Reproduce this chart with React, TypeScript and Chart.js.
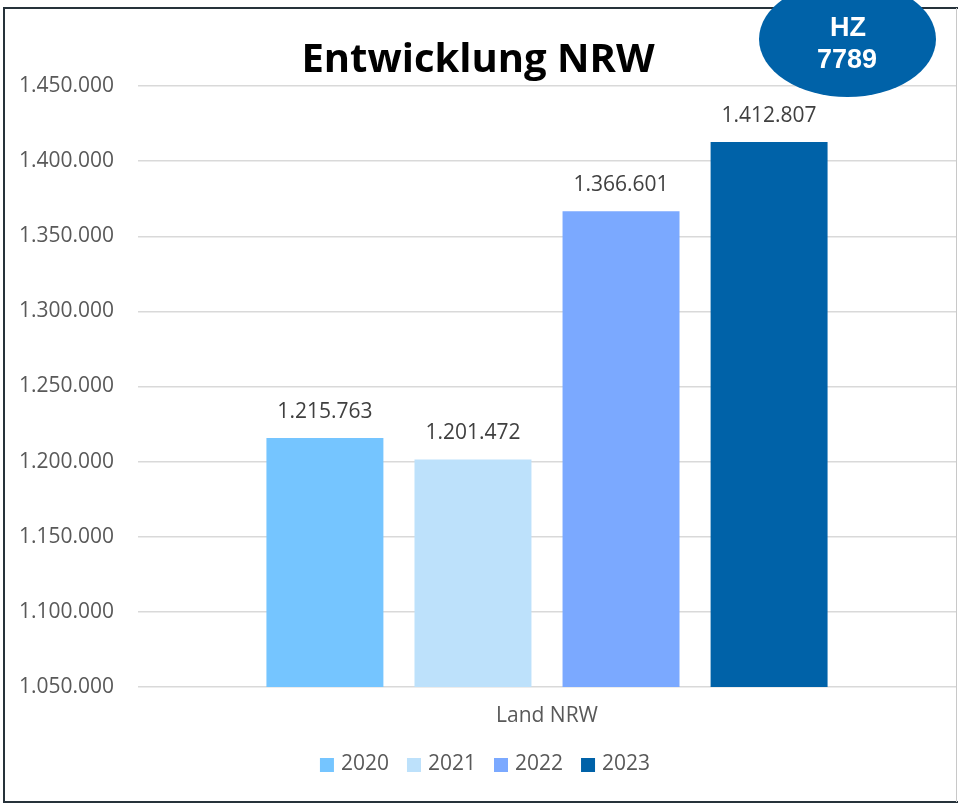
import React, { useEffect, useRef } from "react";
import { Chart, registerables } from "chart.js";

Chart.register(...registerables);

const TITLE = "Entwicklung NRW";
const CATEGORIES = ["Land NRW"];
const YEARS = ["2020", "2021", "2022", "2023"];
const VALUES = [1215763, 1201472, 1366601, 1412807];
const COLORS = ["#75C5FF", "#BDE1FB", "#7BA9FF", "#0062A8"];
const Y_MIN = 1050000;
const Y_MAX = 1450000;
const Y_STEP = 50000;
const BADGE_LINES = ["HZ", "7789"];

const FONT = "'Open Sans', 'DejaVu Sans', sans-serif";

function fmt(n: number): string {
  return String(Math.round(n)).replace(/\B(?=(\d{3})+(?!\d))/g, ".");
}

const framePlugin = {
  id: "frame",
  beforeDraw(chart: any) {
    const { ctx, width, height } = chart;
    ctx.save();
    ctx.fillStyle = "#FFFFFF";
    ctx.fillRect(0, 0, width, height);
    ctx.strokeStyle = "#26323A";
    ctx.lineWidth = 2;
    ctx.beginPath();
    ctx.moveTo(3, 8);
    ctx.lineTo(width, 8);
    ctx.moveTo(4, 7);
    ctx.lineTo(4, height - 1);
    ctx.moveTo(3, height - 1);
    ctx.lineTo(width, height - 1);
    ctx.stroke();
    ctx.strokeStyle = "#C8C8C8";
    ctx.lineWidth = 1;
    ctx.beginPath();
    ctx.moveTo(width - 1.5, 8);
    ctx.lineTo(width - 1.5, height - 1);
    ctx.stroke();
    ctx.restore();
  },
  afterDraw(chart: any) {
    const { ctx, width, chartArea } = chart;
    ctx.save();
    // custom legend
    ctx.font = `21px ${FONT}`;
    ctx.textBaseline = "middle";
    ctx.textAlign = "left";
    const box = 14;
    const gap = 7;
    const itemGap = 18;
    const items = chart.data.datasets.map((ds: any) => ({
      label: ds.label as string,
      color: ds.backgroundColor as string,
      w: box + gap + ctx.measureText(ds.label).width,
    }));
    const total =
      items.reduce((s: number, it: any) => s + it.w, 0) + itemGap * (items.length - 1);
    let x = width / 2 + 6 - total / 2;
    const yc = chartArea.bottom + 77;
    items.forEach((it: any) => {
      ctx.fillStyle = it.color;
      ctx.fillRect(x, yc - 6, box, box);
      ctx.fillStyle = "#595959";
      ctx.fillText(it.label, x + box + gap, yc);
      x += it.w + itemGap;
    });

    // badge
    ctx.fillStyle = "#0062A8";
    ctx.beginPath();
    ctx.ellipse(847.5, 39, 88.5, 58, 0, 0, Math.PI * 2);
    ctx.fill();
    ctx.fillStyle = "#FFFFFF";
    ctx.font = "bold 27px 'Liberation Sans', Arial, sans-serif";
    ctx.textAlign = "center";
    ctx.textBaseline = "middle";
    ctx.fillText(BADGE_LINES[0], 848, 29);
    ctx.fillText(BADGE_LINES[1], 847, 61);
    ctx.restore();
  },
};

const valueLabelPlugin = {
  id: "valueLabels",
  afterDatasetsDraw(chart: any) {
    const { ctx } = chart;
    ctx.save();
    ctx.fillStyle = "#404040";
    ctx.font = `21px ${FONT}`;
    ctx.textAlign = "center";
    ctx.textBaseline = "middle";
    chart.data.datasets.forEach((ds: any, i: number) => {
      const meta = chart.getDatasetMeta(i);
      meta.data.forEach((el: any, j: number) => {
        ctx.fillText(fmt(ds.data[j]), el.x, el.y - 26);
      });
    });
    ctx.restore();
  },
};

export default function App() {
  const ref = useRef<HTMLCanvasElement | null>(null);

  useEffect(() => {
    if (!ref.current) return;
    const chart = new Chart(ref.current, {
      type: "bar",
      data: {
        labels: CATEGORIES,
        datasets: YEARS.map((y, i) => ({
          label: y,
          data: [VALUES[i]],
          backgroundColor: COLORS[i],
          borderWidth: 0,
          categoryPercentage: 0.724,
          barPercentage: 0.79,
        })),
      },
      options: {
        responsive: false,
        animation: false,
        layout: { padding: { left: 0, right: 2, top: 0, bottom: 71.5 } },
        plugins: {
          title: {
            display: true,
            text: TITLE,
            color: "#000000",
            font: { family: FONT, size: 40, weight: "bold" },
            padding: { top: 37, bottom: 1 },
          },
          legend: { display: false },
          tooltip: { enabled: false },
        },
        scales: {
          x: {
            grid: { display: false, drawTicks: false },
            border: { display: false },
            ticks: {
              color: "#595959",
              font: { family: FONT, size: 21 },
              padding: 16,
            },
            afterFit(scale: any) {
              scale.height = 44.5;
            },
          },
          y: {
            min: Y_MIN,
            max: Y_MAX,
            grid: { color: "#D9D9D9", lineWidth: 1.5, drawTicks: false },
            border: { display: false },
            ticks: {
              stepSize: Y_STEP,
              color: "#595959",
              font: { family: FONT, size: 21 },
              padding: 24,
              callback: (v: any) => fmt(Number(v)),
            },
            afterFit(scale: any) {
              scale.width = 138;
            },
          },
        },
      },
      plugins: [framePlugin, valueLabelPlugin],
    });
    return () => chart.destroy();
  }, []);

  return (
    <div style={{ position: "absolute", left: 0, top: 0, width: 958, height: 803 }}>
      <canvas ref={ref} width={958} height={803} />
    </div>
  );
}
